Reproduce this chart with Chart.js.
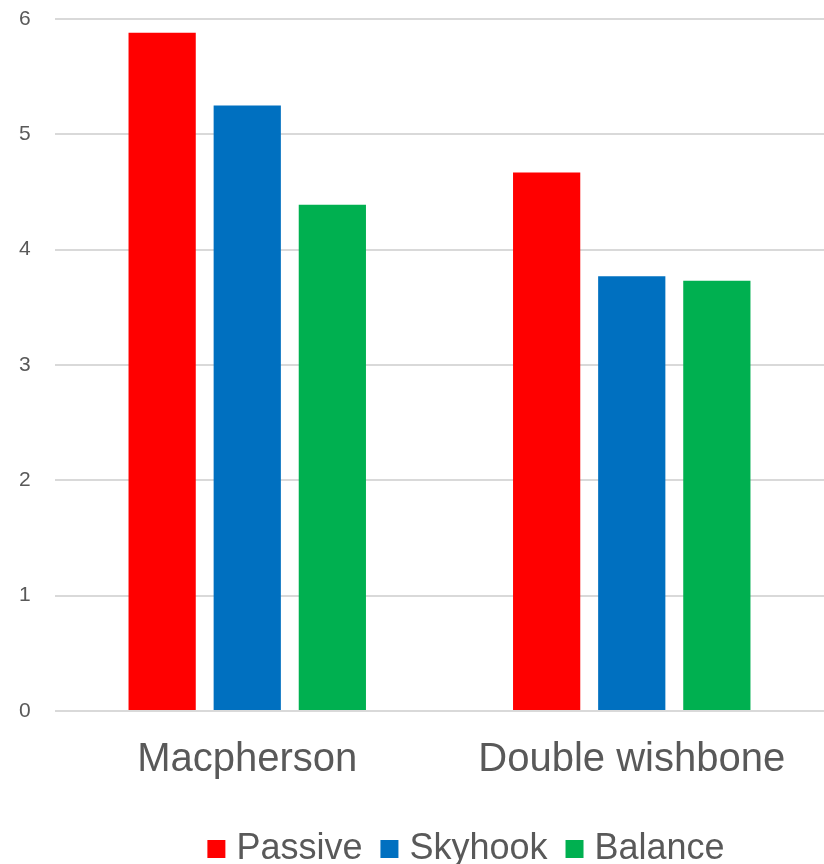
<!DOCTYPE html>
<html>
<head>
<meta charset="utf-8">
<script src="https://cdn.jsdelivr.net/npm/chart.js@4/dist/chart.umd.min.js"></script>
<style>
  html, body { margin: 0; padding: 0; background: #fff; }
  #wrap { width: 824px; height: 864px; position: relative; }
</style>
</head>
<body>
<div id="wrap"><canvas id="c" width="824" height="864"></canvas></div>
<script>
// Suspension types along the x axis
const categories = ['Macpherson', 'Double wishbone'];

// Control strategies, one series each
const passive = [5.88, 4.67];
const skyhook = [5.25, 3.77];
const balance = [4.39, 3.73];

const yTicks = [0, 1, 2, 3, 4, 5, 6];

const textColor = '#595959';
const gridColor = '#d9d9d9';
const fontFamily = '"Liberation Sans", Arial, sans-serif';

// Nudge the bottom legend to the right of the canvas centre
const legendShift = {
  id: 'legendShift',
  afterLayout(chart, args, opts) {
    const lg = chart.legend;
    if (lg) { lg.left += opts.dx; lg.right += opts.dx; }
  }
};

new Chart(document.getElementById('c'), {
  type: 'bar',
  data: {
    labels: categories,
    datasets: [
      { label: 'Passive', data: passive, backgroundColor: '#FF0000' },
      { label: 'Skyhook', data: skyhook, backgroundColor: '#0070C0' },
      { label: 'Balance', data: balance, backgroundColor: '#00B050' }
    ]
  },
  plugins: [legendShift],
  options: {
    responsive: false,
    animation: false,
    datasets: { bar: { categoryPercentage: 0.664, barPercentage: 0.79 } },
    layout: { padding: { top: 19, right: 0, bottom: -13, left: 19 } },
    plugins: {
      tooltip: { enabled: false },
      legendShift: { dx: 48 },
      legend: {
        position: 'bottom',
        labels: {
          color: textColor,
          font: { family: fontFamily, size: 36 },
          // small core box with a thick same-colour outline: an 18px square
          // that sits close to its label
          boxWidth: 4,
          boxHeight: 4,
          padding: 25,
          generateLabels: (chart) =>
            Chart.defaults.plugins.legend.labels.generateLabels(chart).map(item => ({
              ...item,
              lineWidth: 14,
              strokeStyle: item.fillStyle
            }))
        }
      }
    },
    scales: {
      x: {
        grid: { display: false, drawTicks: false },
        border: { display: false },
        afterFit: (axis) => { axis.height = 95; },
        ticks: {
          color: textColor,
          font: { family: fontFamily, size: 40 },
          padding: 25
        }
      },
      y: {
        min: 0,
        max: 6,
        afterBuildTicks: (axis) => { axis.ticks = yTicks.map(v => ({ value: v })); },
        afterFit: (axis) => { axis.width = 36; },
        grid: { color: gridColor, lineWidth: 2, drawTicks: false },
        border: { display: false },
        ticks: {
          color: textColor,
          font: { family: fontFamily, size: 21 },
          crossAlign: 'far',
          padding: 0
        }
      }
    }
  }
});
</script>
</body>
</html>
